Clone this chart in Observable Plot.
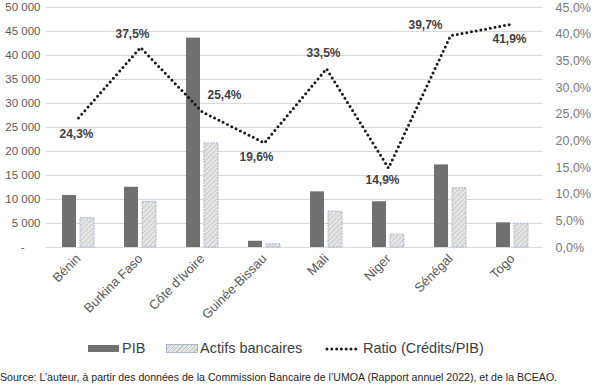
<!DOCTYPE html>
<html>
<head>
<meta charset="utf-8">
<script src="https://cdn.jsdelivr.net/npm/d3@7"></script>
<script src="https://cdn.jsdelivr.net/npm/@observablehq/plot@0.6"></script>
<style>
  html, body { margin: 0; padding: 0; background: #fff; }
  #wrap { position: relative; width: 600px; height: 391px; overflow: hidden; font-family: "Liberation Sans", Arial, sans-serif; }
  #chart svg { display: block; }
  .lg { position: absolute; }
  .lgtext { position: absolute; font-size: 14.5px; color: #404040; line-height: 16px; top: 340px; white-space: nowrap; }
  #caption { position: absolute; left: 0px; top: 371px; font-size: 10.6px; color: #262626; white-space: nowrap; }
</style>
</head>
<body>
<div id="wrap">
  <div id="chart"></div>
  <div class="lg" style="left:88px; top:345px; width:31px; height:7px; background:#707070;"></div>
  <div class="lgtext" style="left:122px;">PIB</div>
  <div class="lg" style="left:166px; top:344px; width:30px; height:7px; border:1px solid #a9b7d0; background: repeating-linear-gradient(-45deg, #e4e4e4 0 2px, #c2c2c2 2px 3px);"></div>
  <div class="lgtext" style="left:200px;">Actifs bancaires</div>
  <svg class="lg" style="left:324px; top:344px;" width="38" height="10"><line x1="3" y1="5" x2="36" y2="5" stroke="#1a1a1a" stroke-width="3" stroke-dasharray="0,4.8" stroke-linecap="round"/></svg>
  <div class="lgtext" style="left:363px;">Ratio (Crédits/PIB)</div>
  <div id="caption">Source: L’auteur, à partir des données de la Commission Bancaire de l’UMOA (Rapport annuel 2022), et de la BCEAO.</div>
</div>
<script>
// Data
const countries = ["Bénin", "Burkina Faso", "Côte d'Ivoire", "Guinée-Bissau", "Mali", "Niger", "Sénégal", "Togo"];
const pib = [10840, 12550, 43620, 1300, 11590, 9530, 17200, 5140];
const actifs = [6110, 9530, 21670, 680, 7470, 2670, 12350, 4940];
const ratio = [24.3, 37.5, 25.4, 19.6, 33.5, 14.9, 39.7, 41.9];
const leftTicks = [0, 5000, 10000, 15000, 20000, 25000, 30000, 35000, 40000, 45000, 50000];
const rightTicks = [0, 5, 10, 15, 20, 25, 30, 35, 40, 45];

// Layout (label placement offsets, px)
const labelOffsets = [[-2, 16], [-8, -13], [22, -17], [-8, 14], [-3, -16], [-6, 12], [-25, -11], [-3, 15]];

const leftMax = 50000, rightMax = 45;
const K = leftMax / rightMax;
const rows = countries.map((c, i) => ({country: c, pib: pib[i], actifs: actifs[i], ratio: ratio[i], ratioY: ratio[i] * K}));

const fmtLeft = d => d === 0 ? "-\u00a0\u00a0\u00a0\u00a0\u00a0" : d3.format(",")(d).replace(/,/g, "\u00a0");
const fmtPct = v => v.toFixed(1).replace(".", ",") + "%";

const labelMarks = rows.map((r, i) => Plot.text([r], {
  x: "country", y: "ratioY", text: d => fmtPct(d.ratio),
  dx: labelOffsets[i][0], dy: labelOffsets[i][1],
  fill: "#404040", fontSize: 12, fontWeight: 600
}));

const chart = Plot.plot({
  width: 600,
  height: 332,
  marginTop: 7,
  marginBottom: 85,
  marginLeft: 46,
  marginRight: 57,
  style: {fontFamily: "'Liberation Sans', Arial, sans-serif", fontSize: "12px", background: "white", color: "#595959"},
  x: {domain: countries, paddingInner: 0.7746, paddingOuter: 0.3873, axis: null, label: null},
  y: {domain: [0, leftMax], axis: null, label: null},
  marks: [
    Plot.gridY(leftTicks, {stroke: "#d9d9d9", strokeOpacity: 1, strokeWidth: 1}),
    Plot.barY(rows, {x: "country", y: "pib", fill: "#707070", dx: -9}),
    Plot.barY(rows, {x: "country", y: "actifs", fill: "url(#hatch)", stroke: "#a9b7d0", strokeWidth: 1, strokeDasharray: "2,1", dx: 9}),
    Plot.lineY(rows, {x: "country", y: "ratioY", stroke: "#1a1a1a", strokeWidth: 3, strokeDasharray: "0,4.8", strokeLinecap: "round"}),
    ...labelMarks,
    Plot.axisY({anchor: "left", ticks: leftTicks, tickSize: 0, tickPadding: 6, tickFormat: fmtLeft, fontSize: 11.5, fill: "#595959", label: null}),
    Plot.axisY({anchor: "right", ticks: rightTicks.map(t => t * K), tickSize: 0, tickPadding: 12, tickFormat: d => fmtPct(d / K), fontSize: 12.5, fill: "#7a7a7a", label: null}),
    Plot.axisX({anchor: "bottom", tickRotate: -45, tickSize: 0, tickPadding: 9, fontSize: 13, fill: "#595959", label: null})
  ]
});

const svgNode = chart.tagName.toLowerCase() === "svg" ? chart : chart.querySelector("svg");
const NS = "http://www.w3.org/2000/svg";
const defs = document.createElementNS(NS, "defs");
const pat = document.createElementNS(NS, "pattern");
pat.setAttribute("id", "hatch");
pat.setAttribute("width", "3.5");
pat.setAttribute("height", "3.5");
pat.setAttribute("patternUnits", "userSpaceOnUse");
pat.setAttribute("patternTransform", "rotate(45)");
const bg = document.createElementNS(NS, "rect");
bg.setAttribute("width", "3.5"); bg.setAttribute("height", "3.5"); bg.setAttribute("fill", "#e4e4e4");
const ln = document.createElementNS(NS, "line");
ln.setAttribute("x1", "0"); ln.setAttribute("y1", "0"); ln.setAttribute("x2", "0"); ln.setAttribute("y2", "3.5");
ln.setAttribute("stroke", "#bdbdbd"); ln.setAttribute("stroke-width", "1.2");
pat.appendChild(bg); pat.appendChild(ln); defs.appendChild(pat);
svgNode.insertBefore(defs, svgNode.firstChild);

document.getElementById("chart").appendChild(chart);
</script>
</body>
</html>
